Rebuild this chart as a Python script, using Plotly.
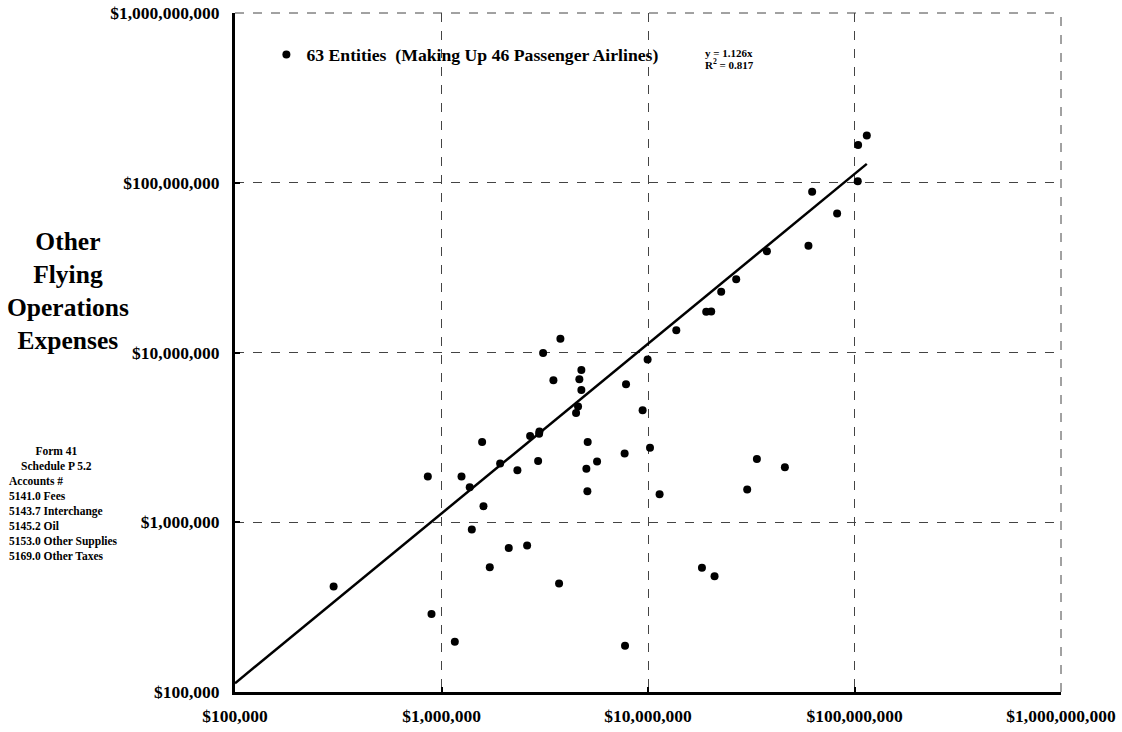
import plotly.graph_objects as go

# Data (x: expense base, y: other flying operations expenses)
x_values = [858600, 1250000, 1370000, 1573000, 1597000, 1402000, 1923000, 2331000, 2117000, 2598000,
            1713000, 2686000, 2970000, 2980000, 2937000, 3105000, 3765000, 3483000, 4651000, 4756000,
            4756000, 4584000, 4484000, 5104000, 5030000, 5667000, 5087000, 7827000, 7706000, 9417000,
            9957000, 10226000, 11380000, 13710000, 300300, 894500, 1160000, 3710000, 7740000, 18250000,
            21000000, 114700000, 104100000, 103700000, 62360000, 82380000, 59840000, 37650000, 26740000, 22620000,
            19140000, 20240000, 33680000, 46010000, 30230000]
y_values = [1861000, 1860000, 1609000, 2967000, 1243000, 905000, 2221000, 2028000, 706000, 729000,
            544000, 3219000, 3325000, 3430000, 2292000, 9945000, 12030000, 6862000, 6956000, 7893000,
            6015000, 4799000, 4399000, 2967000, 2067000, 2282000, 1524000, 6501000, 2544000, 4564000,
            9092000, 2749000, 1463000, 13540000, 419000, 288000, 197600, 436000, 187000, 540000,
            480000, 190000000, 166700000, 102200000, 88380000, 65800000, 42600000, 39470000, 26970000, 22790000,
            17360000, 17460000, 2355000, 2112000, 1560000]

slope = 1.126
r_squared = 0.817
series_name = "63 Entities  (Making Up 46 Passenger Airlines)"

tick_vals = [1e5, 1e6, 1e7, 1e8, 1e9]
tick_text = ["$100,000", "$1,000,000", "$10,000,000", "$100,000,000", "$1,000,000,000"]

y_title_lines = ["Other", "Flying", "Operations", "Expenses"]
note_center = ["Form 41", "Schedule P 5.2"]
note_left = ["Accounts #", "5141.0 Fees", "5143.7 Interchange", "5145.2 Oil",
             "5153.0 Other Supplies", "5169.0 Other Taxes"]

FONT = "Liberation Serif, Times New Roman, serif"
GRID = "#444444"

fig = go.Figure()

line_x = [1e5, max(x_values)]
line_y = [slope * v for v in line_x]
fig.add_trace(go.Scatter(x=line_x, y=line_y, mode="lines",
                         line=dict(color="black", width=2.5), showlegend=False,
                         hoverinfo="skip"))

fig.add_trace(go.Scatter(x=x_values, y=y_values, mode="markers", name=series_name,
                         marker=dict(color="black", size=8)))

axis_common = dict(
    type="log", range=[5, 9], tickvals=tick_vals, ticktext=tick_text,
    showline=True, linecolor="black", linewidth=3,
    ticks="inside", ticklen=5, tickwidth=2, tickcolor="black",
    showgrid=True, gridcolor=GRID, griddash="dash", gridwidth=1,
    zeroline=False, automargin=False, ticklabeloverflow="allow",
    tickfont=dict(family=FONT, size=17.5, color="black", weight="bold"),
)

fig.update_xaxes(**axis_common, ticklabelstandoff=6)
fig.update_yaxes(**axis_common, ticklabelstandoff=9)

# edge gridlines (top and right) that the axis engine skips at range ends
shapes = [
    dict(type="line", xref="paper", yref="paper", x0=0, x1=1, y0=1, y1=1,
         line=dict(color=GRID, width=1, dash="dash"), layer="below"),
    dict(type="line", xref="paper", yref="paper", x0=1, x1=1, y0=0, y1=1,
         line=dict(color=GRID, width=1, dash="dash"), layer="below"),
]

annotations = []
annotations.append(dict(xref="paper", yref="paper", x=-0.202, y=0.59, xanchor="center", yanchor="middle",
                        text="<br>".join(y_title_lines), showarrow=False, align="center",
                        font=dict(family=FONT, size=25.5, color="black", weight="bold")))

annotations.append(dict(xref="paper", yref="paper", x=-0.2155, y=0.3667, xanchor="center", yanchor="top",
                        text="<br>".join(note_center), showarrow=False, align="center",
                        font=dict(family=FONT, size=11.5, color="black", weight="bold")))
annotations.append(dict(xref="paper", yref="paper", x=-0.276, y=0.3225, xanchor="left", yanchor="top",
                        text="<br>".join(note_left), showarrow=False, align="left",
                        font=dict(family=FONT, size=11.5, color="black", weight="bold")))

annotations.append(dict(xref="paper", yref="paper", x=0.5666, y=(692 - 53) / 679, xanchor="left", yanchor="middle",
                        text=f"y = {slope}x", showarrow=False, align="left",
                        font=dict(family=FONT, size=11, color="black", weight="bold")))
annotations.append(dict(xref="paper", yref="paper", x=0.5666, y=(692 - 64) / 679, xanchor="left", yanchor="middle",
                        text=f"R<sup>2</sup> = {r_squared}", showarrow=False, align="left",
                        font=dict(family=FONT, size=11, color="black", weight="bold")))

fig.update_layout(
    width=1122, height=732,
    margin=dict(l=235, r=61, t=13, b=40, autoexpand=False),
    paper_bgcolor="white", plot_bgcolor="white",
    font=dict(family=FONT, color="black"),
    showlegend=True,
    legend=dict(x=0.038, y=(692 - 55) / 679, xanchor="left", yanchor="middle", bgcolor="rgba(0,0,0,0)",
                font=dict(family=FONT, size=17.7, color="black", weight="bold"),
                itemwidth=30),
    shapes=shapes,
    annotations=annotations,
)

# remove the page's default body margin so the figure fills the window exactly
fig.write_html("out.html",
               config={"displayModeBar": False},
               post_script="document.body.style.margin='0';document.body.style.overflow='hidden';")
